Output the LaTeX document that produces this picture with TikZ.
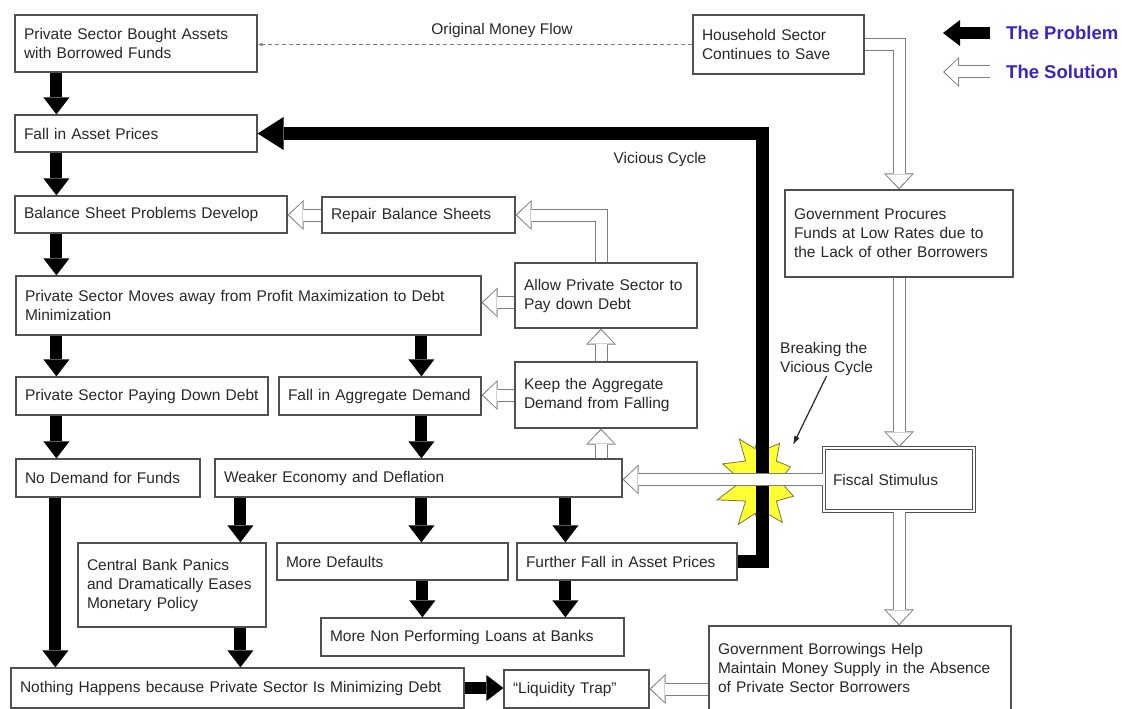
\documentclass[tikz,border=0pt]{standalone}
\usepackage{fontspec}
\setmainfont{Liberation Sans}
\usepackage{tikz}
\usetikzlibrary{arrows.meta, shapes.symbols, calc}

\definecolor{boxgray}{RGB}{80,80,80}
\definecolor{arrowgray}{RGB}{125,125,125}
\definecolor{textgray}{RGB}{40,40,40}
\definecolor{legendblue}{RGB}{58,36,196}
\definecolor{burstyellow}{RGB}{255,255,51}
\definecolor{burstline}{RGB}{120,120,60}

\newcommand{\diagramfont}{\fontsize{15.5pt}{19pt}\selectfont}
\newcommand{\legendfont}{\fontsize{18.5pt}{22pt}\selectfont\bfseries}

\tikzset{
  box/.style 2 args={draw=boxgray, line width=1.2pt, fill=white, text=textgray,
    font=\diagramfont, align=left, inner xsep=9pt, inner ysep=2pt,
    minimum width=#1, minimum height=#2, text width=#1-18},
  remark/.style={text=textgray, font=\diagramfont, inner sep=0pt},
  legend/.style={text=legendblue, font=\legendfont, inner sep=0pt, anchor=west},
  problem/.style={draw=black, line width=12pt,
    -{Triangle[length=17pt, width=26pt, line width=0pt]}},
  vicious/.style={draw=black, line width=13pt,
    -{Triangle[length=26pt, width=33pt, line width=0pt]}},
  solution/.style={draw=white, line width=11pt, shorten >=1.6pt,
    -{Triangle[length=13.5pt, width=26pt, line width=0pt]},
    preaction={draw=arrowgray, line width=13pt, shorten >=0pt,
      -{Triangle[length=16pt, width=30pt, line width=0pt]}}},
  moneyflow/.style={draw=arrowgray, line width=1pt, dash pattern=on 4pt off 3pt,
    -{Latex[length=5pt, width=4pt]}},
  pointer/.style={draw=black!85, line width=1.2pt, -{Latex[length=9pt, width=6pt]}},
  burst/.style={shape=starburst, starburst points=10, starburst point height=30pt,
    random starburst=57, fill=burstyellow, draw=burstline, line width=0.8pt,
    minimum width=98pt, minimum height=128pt}
}

\begin{document}
\begin{tikzpicture}[x=1pt, y=-1pt]
    \useasboundingbox (0,0) rectangle (1122,709);

    % draw boxes of the problem side
    \node[box={242}{57}] (bought) at (136,43.5) {Private Sector Bought Assets\\with Borrowed Funds};
    \node[box={242}{37}] (fallasset) at (136,133.5) {Fall in Asset Prices};
    \node[box={272}{37}] (balance) at (151,214.5) {Balance Sheet Problems Develop};
    \node[box={465}{59}] (moves) at (248.5,305.5) {Private Sector Moves away from Profit Maximization to Debt\\Minimization};
    \node[box={252}{38}] (paying) at (142,396) {Private Sector Paying Down Debt};
    \node[box={202}{38}] (fallagg) at (380,396) {Fall in Aggregate Demand};
    \node[box={184}{38}] (nodemand) at (108,478) {No Demand for Funds};
    \node[box={407}{38}] (weaker) at (418.5,478) {Weaker Economy and Deflation};
    \node[box={188}{84}] (central) at (172,585) {Central Bank Panics\\and Dramatically Eases\\Monetary Policy};
    \node[box={231}{37}] (defaults) at (392.5,561.5) {More Defaults};
    \node[box={220}{37}] (further) at (627,561.5) {Further Fall in Asset Prices};
    \node[box={303}{38}] (npl) at (472.5,637) {More Non Performing Loans at Banks};
    \node[box={453}{40}] (nothing) at (237.5,688) {Nothing Happens because Private Sector Is Minimizing Debt};
    \node[box={145}{38}] (liquidity) at (576.5,689) {``Liquidity Trap''};

    % draw boxes of the solution side
    \node[box={171}{59}] (household) at (778.5,44.5) {Household Sector\\Continues to Save};
    \node[box={228}{87}] (govproc) at (899,233.5) {Government Procures\\Funds at Low Rates due to\\the Lack of other Borrowers};
    \node[box={193}{36}] (repair) at (418.5,215) {Repair Balance Sheets};
    \node[box={182}{65}] (allow) at (606,295.5) {Allow Private Sector to\\Pay down Debt};
    \node[box={182}{66}] (keep) at (606,395) {Keep the Aggregate\\Demand from Falling};
    \node[box={150}{63}, double=white, double distance=2.5pt] (fiscal) at (899,479.5) {Fiscal Stimulus};
    \node[box={302}{84}] (govborrow) at (860,668) {Government Borrowings Help\\Maintain Money Supply in the Absence\\of Private Sector Borrowers};

    % draw labels and legend
    \node[remark] (flowlabel) at (502,30) {Original Money Flow};
    \node[remark] (viciouslabel) at (660,159) {Vicious Cycle};
    \node[remark, anchor=west, align=left] (breaklabel) at (780,359) {Breaking the\\Vicious Cycle};
    \node[legend] (problemlabel) at (1006,33) {The Problem};
    \node[legend] (solutionlabel) at (1006,72) {The Solution};

    % draw original money flow
    \draw[moneyflow] (household.west) -- (household.west -| bought.east);

    % draw problem arrows
    \draw[problem] ([xshift=42]bought.south west) -- ([xshift=42]fallasset.north west);
    \draw[problem] ([xshift=42]fallasset.south west) -- ([xshift=42]balance.north west);
    \draw[problem] ([xshift=42]balance.south west) -- ([xshift=41]moves.north west);
    \draw[problem] ([xshift=41]moves.south west) -- ([xshift=41]paying.north west);
    \draw[problem] ([xshift=406]moves.south west) -- ([xshift=143]fallagg.north west);
    \draw[problem] ([xshift=41]paying.south west) -- ([xshift=41]nodemand.north west);
    \draw[problem] ([xshift=143]fallagg.south west) -- ([xshift=207]weaker.north west);
    \draw[problem] ([xshift=40]nodemand.south west) -- ([xshift=45]nothing.north west);
    \draw[problem] ([xshift=26]weaker.south west) -- ([xshift=163]central.north west);
    \draw[problem] ([xshift=207]weaker.south west) -- ([xshift=145]defaults.north west);
    \draw[problem] ([xshift=351]weaker.south west) -- ([xshift=49]further.north west);
    \draw[problem] ([xshift=163]central.south west) -- ([xshift=230]nothing.north west);
    \draw[problem] ([xshift=146]defaults.south west) -- ([xshift=102]npl.north west);
    \draw[problem] ([xshift=49]further.south west) -- ([xshift=245]npl.north west);
    \draw[problem] (nothing.east) -- (nothing.east -| liquidity.west);
    \draw[problem] ([xshift=-16]problemlabel.west) -- ++(-47,0);

    % draw vicious cycle with the burst
    \node[burst] (burst) at (761,481) {};
    \draw[vicious] (further.east) -- ++(25,0) |- (fallasset.east);
    \draw[pointer] (breaklabel.south) -- ($(burst.center)+(32,-36)$);

    % draw solution arrows
    \draw[solution] (household.east) -| (govproc.north);
    \draw[solution] (govproc.south) -- (fiscal.north);
    \draw[solution] (fiscal.south) -- (fiscal.south |- govborrow.north);
    \draw[solution] (fiscal.west) -- (fiscal.west -| weaker.east);
    \draw[solution] ($(keep.south |- weaker.north)+(-5,0)$) -- ($(keep.south)+(-5,0)$);
    \draw[solution] ($(keep.north)+(-5,0)$) -- ($(allow.south)+(-5,0)$);
    \draw[solution] ($(allow.north)+(-5,0)$) |- (repair.east);
    \draw[solution] ($(allow.west)+(0,7)$) -- ($(allow.west -| moves.east)+(0,7)$);
    \draw[solution] (keep.west) -- (keep.west -| fallagg.east);
    \draw[solution] (repair.west) -- (repair.west -| balance.east);
    \draw[solution] (govborrow.west |- liquidity.east) -- (liquidity.east);
    \draw[solution] ([xshift=-16]solutionlabel.west) -- ++(-47,0);

\end{tikzpicture}
\end{document}
